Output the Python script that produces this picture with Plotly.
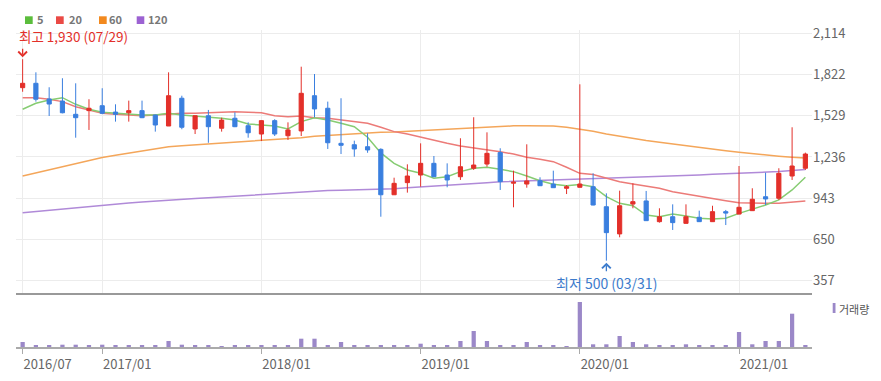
import plotly.graph_objects as go

months = [
    "2016/07", "2016/08", "2016/09", "2016/10", "2016/11", "2016/12",
    "2017/01", "2017/02", "2017/03", "2017/04", "2017/05", "2017/06",
    "2017/07", "2017/08", "2017/09", "2017/10", "2017/11", "2017/12",
    "2018/01", "2018/02", "2018/03", "2018/04", "2018/05", "2018/06",
    "2018/07", "2018/08", "2018/09", "2018/10", "2018/11", "2018/12",
    "2019/01", "2019/02", "2019/03", "2019/04", "2019/05", "2019/06",
    "2019/07", "2019/08", "2019/09", "2019/10", "2019/11", "2019/12",
    "2020/01", "2020/02", "2020/03", "2020/04", "2020/05", "2020/06",
    "2020/07", "2020/08", "2020/09", "2020/10", "2020/11", "2020/12",
    "2021/01", "2021/02", "2021/03", "2021/04", "2021/05", "2021/06",
]

open_ = [1728, 1759, 1648, 1633, 1539, 1565, 1600, 1555, 1550, 1565, 1534, 1456,
         1653, 1435, 1529, 1440, 1511, 1458, 1399, 1494, 1387, 1421, 1671, 1582,
         1333, 1323, 1309, 1290, 968, 1054, 1108, 1191, 1108, 1096, 1156, 1186,
         1267, 1050, 1044, 1068, 1044, 1014, 1021, 1025, 883, 690, 902, 924,
         777, 812, 765, 808, 777, 848, 831, 855, 954, 943, 1101, 1156]
high = [1930, 1837, 1731, 1795, 1759, 1646, 1724, 1610, 1636, 1636, 1536, 1837,
        1671, 1529, 1570, 1515, 1553, 1482, 1498, 1504, 1482, 1877, 1825, 1629,
        1653, 1352, 1404, 1298, 1089, 1184, 1333, 1243, 1191, 1369, 1518, 1411,
        1298, 1139, 1326, 1092, 1139, 1037, 1752, 1120, 978, 997, 1049, 995,
        872, 900, 900, 855, 890, 860, 1172, 1014, 1125, 1156, 1447, 1267]
low = [1699, 1629, 1527, 1546, 1373, 1428, 1540, 1487, 1487, 1512, 1416, 1456,
       1433, 1399, 1337, 1416, 1448, 1373, 1349, 1385, 1357, 1385, 1518, 1293,
       1257, 1238, 1266, 812, 966, 983, 1025, 1094, 1021, 1073, 1144, 1167,
       1002, 879, 1018, 1030, 1016, 973, 1019, 893, 500, 666, 872, 782,
       770, 718, 763, 775, 775, 753, 829, 853, 895, 931, 1073, 1144]
close = [1759, 1646, 1612, 1550, 1515, 1582, 1546, 1539, 1565, 1515, 1463, 1671,
         1447, 1529, 1451, 1498, 1451, 1408, 1494, 1399, 1428, 1688, 1577, 1337,
         1319, 1293, 1286, 968, 1049, 1101, 1191, 1096, 1073, 1167, 1179, 1262,
         1061, 1057, 1066, 1032, 1018, 1025, 1044, 895, 699, 890, 919, 784,
         812, 770, 812, 777, 848, 838, 879, 936, 938, 1120, 1172, 1257]

ma5 = [1575, 1617, 1641, 1657, 1610, 1575, 1553, 1546, 1541, 1534, 1534, 1546,
       1534, 1527, 1515, 1511, 1498, 1470, 1463, 1456, 1435, 1487, 1515, 1498,
       1475, 1451, 1376, 1265, 1191, 1144, 1120, 1085, 1096, 1132, 1156, 1163,
       1149, 1132, 1101, 1068, 1042, 1032, 1040, 1025, 954, 907, 890, 824,
       812, 831, 817, 801, 796, 801, 836, 865, 895, 931, 1002, 1092]
ma20 = [1657, 1657, 1646, 1629, 1593, 1570, 1546, 1539, 1534, 1529, 1534, 1541,
        1546, 1546, 1550, 1555, 1558, 1553, 1550, 1529, 1522, 1527, 1515, 1511,
        1498, 1487, 1475, 1447, 1416, 1399, 1376, 1352, 1333, 1314, 1302, 1286,
        1274, 1257, 1234, 1220, 1203, 1163, 1120, 1112, 1085, 1061, 1044, 1030,
        1014, 990, 973, 959, 943, 926, 912, 907, 907, 907, 914, 924]
ma60 = [1101, 1123, 1145, 1167, 1189, 1211, 1232, 1248, 1264, 1279, 1294, 1309,
        1316, 1322, 1329, 1335, 1342, 1349, 1356, 1362, 1368, 1373, 1384, 1390,
        1396, 1402, 1405, 1411, 1413, 1418, 1427, 1432, 1437, 1441, 1446, 1451,
        1455, 1457, 1458, 1458, 1456, 1447, 1435, 1418, 1400, 1383, 1366, 1353,
        1340, 1327, 1314, 1302, 1291, 1280, 1270, 1259, 1249, 1242, 1234, 1228]
ma120 = [841, 850, 858, 867, 876, 885, 894, 902, 909, 916, 923, 931,
         936, 941, 946, 952, 959, 966, 972, 978, 984, 990, 996, 998,
         1000, 1002, 1004, 1007, 1011, 1017, 1024, 1030, 1036, 1042, 1048, 1054,
         1060, 1063, 1066, 1069, 1072, 1075, 1078, 1080, 1084, 1088, 1092, 1095,
         1099, 1102, 1106, 1109, 1113, 1116, 1119, 1123, 1127, 1133, 1140, 1148]

volume = [500000, 120000, 120000, 230000, 230000, 120000, 230000, 120000, 120000, 120000,
          120000, 600000, 230000, 120000, 120000, 30000, 120000, 120000, 120000, 120000,
          120000, 830000, 830000, 120000, 500000, 120000, 120000, 120000, 120000, 120000,
          330000, 120000, 120000, 600000, 1600000, 600000, 120000, 120000, 500000, 120000,
          120000, 30000, 4500000, 270000, 270000, 1100000, 500000, 270000, 120000, 120000,
          270000, 120000, 120000, 120000, 1500000, 270000, 600000, 600000, 3330000, 120000]

price_ticks = [357, 650, 943, 1236, 1529, 1822, 2114]
price_tick_text = ["357", "650", "943", "1,236", "1,529", "1,822", "2,114"]
x_ticks = ["2016/07", "2017/01", "2018/01", "2019/01", "2020/01", "2021/01"]

ma_names = ["5", "20", "60", "120"]
ma_line_colors = ["#86cc72", "#ec7b78", "#f4a65a", "#b08ad8"]
ma_legend_colors = ["#5bbd3c", "#ea4a45", "#f2891e", "#9c62d2"]

RED = "#e3302a"
BLUE = "#3a7fdf"
VOL = "#9b88c8"

# page body has an 8px margin: figure is drawn at page offset (8, 8)
OFF = 8
W, H = 881 - 2 * OFF, 381 - 2 * OFF
PLOT_L, PLOT_R, PLOT_T, PLOT_B = 16, 812, 30, 347   # page pixels
L, T = PLOT_L - OFF, PLOT_T - OFF
R, B = W - (PLOT_R - OFF), H - (PLOT_B - OFF)
PW, PH = W - L - R, H - T - B


def px(xp):
    return (xp - PLOT_L) / PW


def py(yp):
    return (PLOT_B - yp) / PH


price_range = [270.6, 2137.4]

fig = go.Figure()

for vals, name, col in zip([ma120, ma60, ma20, ma5], ma_names[::-1], ma_line_colors[::-1]):
    fig.add_trace(go.Scatter(x=months, y=vals, mode="lines", name=name,
                             line=dict(color=col, width=1.5), showlegend=False,
                             xaxis="x", yaxis="y"))

fig.add_trace(go.Candlestick(
    x=months, open=open_, high=high, low=low, close=close,
    increasing=dict(line=dict(color=RED, width=1), fillcolor=RED),
    decreasing=dict(line=dict(color=BLUE, width=1), fillcolor=BLUE),
    showlegend=False, xaxis="x", yaxis="y3", name="price"))

fig.add_trace(go.Bar(x=months, y=volume, marker=dict(color=VOL, line=dict(width=0)),
                     width=0.32, showlegend=False, xaxis="x2", yaxis="y2", name="거래량"))

vol_top = 4500000 * 53 / 45

fig.update_layout(
    width=W, height=H,
    margin=dict(l=L, r=R, t=T, b=B, autoexpand=False),
    paper_bgcolor="white", plot_bgcolor="white",
    font=dict(family="Noto Sans CJK KR, Noto Sans, sans-serif", size=13, color="#666"),
    boxgap=0.55,
    xaxis=dict(domain=[0, 1], anchor="y", type="category", range=[-0.5, 59.5],
               tickvals=x_ticks, showticklabels=False, ticks="", automargin=False,
               showgrid=True, gridcolor="#ececec", gridwidth=1,
               showline=True, linecolor="#999", linewidth=2,
               rangeslider=dict(visible=False), fixedrange=True),
    xaxis2=dict(domain=[0, 1], anchor="y2", type="category", matches="x",
                tickvals=x_ticks, ticktext=x_ticks, ticks="outside", ticklen=5,
                tickcolor="#aaa", tickwidth=1, ticklabelshift=25, automargin=False,
                tickfont=dict(size=13, color="#666"),
                showgrid=False, showline=True, linecolor="#aaa", linewidth=1.5),
    yaxis=dict(domain=[(PLOT_B - 293) / PH, 1], side="right", range=price_range,
               tickvals=price_ticks, ticktext=price_tick_text, ticks="",
               tickfont=dict(size=13, color="#666"), automargin=False,
               showgrid=True, gridcolor="#ececec", zeroline=False, showline=False),
    yaxis3=dict(overlaying="y", side="right", range=price_range, visible=False,
                automargin=False),
    yaxis2=dict(domain=[0, (PLOT_B - 294) / PH], range=[0, vol_top], visible=False,
                automargin=False),
)

# legend (squares + labels)
legend_sq = [(25, 32.7), (56, 63.7), (99, 106.7), (136.7, 144.3)]
legend_tx = [36, 67.5, 108, 146.5]
for (x0, x1), tx, name, col in zip(legend_sq, legend_tx, ma_names, ma_legend_colors):
    fig.add_shape(type="rect", xref="paper", yref="paper",
                  x0=px(x0), x1=px(x1), y0=py(24), y1=py(16.3),
                  fillcolor=col, line=dict(width=0))
    fig.add_annotation(xref="paper", yref="paper", x=px(tx), y=py(19.5),
                       xanchor="left", yanchor="middle", showarrow=False, borderpad=0,
                       text=f"<b>{name}</b>", font=dict(size=11, color="#777"))

# max / min labels
i_max = high.index(max(high))
i_min = low.index(min(low))
fig.add_annotation(xref="x", yref="y", x=months[i_max], y=2093, xanchor="left",
                   yanchor="middle", xshift=-5, showarrow=False, borderpad=0,
                   text=f"최고 {max(high):,} (07/29)", font=dict(size=13.5, color=RED))
fig.add_annotation(xref="x", yref="y", x=months[i_max], y=max(high), text="",
                   showarrow=True, ax=0, ay=-12, arrowhead=4, arrowsize=1.3,
                   arrowwidth=1.3, arrowcolor=RED, standoff=2)
fig.add_annotation(xref="x", yref="y", x=months[i_min], y=341.6, xanchor="center",
                   yanchor="middle", showarrow=False, borderpad=0,
                   text=f"최저 {min(low):,} (03/31)", font=dict(size=14, color="#3c7bcc"))
fig.add_annotation(xref="x", yref="y", x=months[i_min], y=min(low), text="",
                   showarrow=True, ax=0, ay=12, arrowhead=4, arrowsize=1.3,
                   arrowwidth=1.3, arrowcolor="#3c7bcc", standoff=2)

# volume legend
fig.add_shape(type="rect", xref="paper", yref="paper",
              x0=px(832.7), x1=px(835.5), y0=py(313), y1=py(303),
              fillcolor=VOL, line=dict(width=0))
fig.add_annotation(xref="paper", yref="paper", x=px(838), y=py(308.5),
                   xanchor="left", yanchor="middle", showarrow=False, borderpad=0,
                   text="거래량", font=dict(size=11, color="#555"))

fig.write_html("out.html")
